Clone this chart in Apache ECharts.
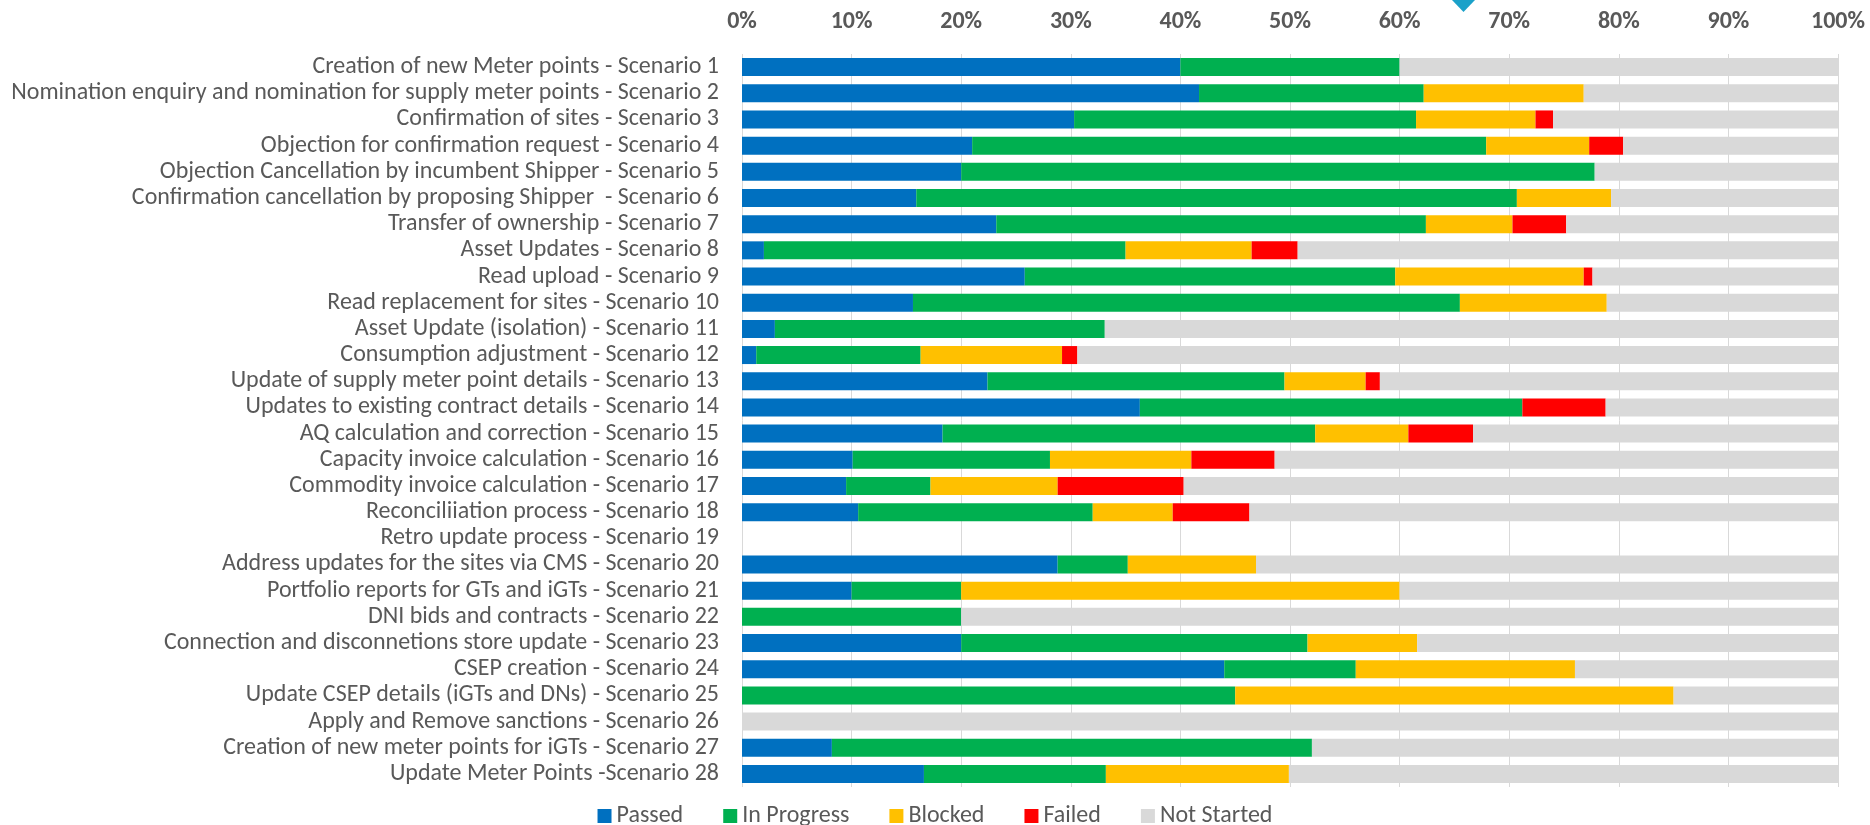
<!DOCTYPE html>
<html>
<head>
<meta charset="utf-8">
<script src="https://cdn.jsdelivr.net/npm/echarts@6/dist/echarts.min.js"></script>
<style>
    html, body {margin: 0; padding: 0; background: #fff;}
    #main {width: 1870px; height: 825px;}
</style>
</head>
<body>
<div id="main"></div>
<script>
// 场景名称
var categories = [
    'Creation of new Meter points - Scenario 1',
    'Nomination enquiry and nomination for supply meter points - Scenario 2',
    'Confirmation of sites - Scenario 3',
    'Objection for confirmation request - Scenario 4',
    'Objection Cancellation by incumbent Shipper - Scenario 5',
    'Confirmation cancellation by proposing Shipper  - Scenario 6',
    'Transfer of ownership - Scenario 7',
    'Asset Updates - Scenario 8',
    'Read upload - Scenario 9',
    'Read replacement for sites - Scenario 10',
    'Asset Update (isolation) - Scenario 11',
    'Consumption adjustment - Scenario 12',
    'Update of supply meter point details - Scenario 13',
    'Updates to existing contract details - Scenario 14',
    'AQ calculation and correction - Scenario 15',
    'Capacity invoice calculation - Scenario 16',
    'Commodity invoice calculation - Scenario 17',
    'Reconciliiation process - Scenario 18',
    'Retro update process - Scenario 19',
    'Address updates for the sites via CMS - Scenario 20',
    'Portfolio reports for GTs and iGTs - Scenario 21',
    'DNI bids and contracts - Scenario 22',
    'Connection and disconnetions store update - Scenario 23',
    'CSEP creation - Scenario 24',
    'Update CSEP details (iGTs and DNs) - Scenario 25',
    'Apply and Remove sanctions - Scenario 26',
    'Creation of new meter points for iGTs - Scenario 27',
    'Update Meter Points -Scenario 28'
];

// 各状态百分比
var passed = [40, 41.7, 30.3, 21.0, 20.0, 15.9, 23.2, 2.0, 25.8, 15.6, 3.0, 1.3, 22.4, 36.3,
    18.3, 10.1, 9.5, 10.6, 0, 28.8, 10, 0, 20, 44, 0, 0, 8.2, 16.6];
var inProgress = [20, 20.5, 31.2, 46.9, 57.8, 54.8, 39.2, 33.0, 33.8, 49.9, 30.1, 15.0, 27.1, 34.9,
    34.0, 18.0, 7.7, 21.4, 0, 6.4, 10, 20, 31.6, 12, 45, 0, 43.8, 16.6];
var blocked = [0, 14.6, 10.9, 9.4, 0, 8.6, 7.9, 11.5, 17.2, 13.4, 0, 12.9, 7.4, 0,
    8.5, 12.9, 11.6, 7.3, 0, 11.7, 40, 0, 10, 20, 40, 0, 0, 16.7];
var failed = [0, 0, 1.6, 3.1, 0, 0, 4.9, 4.2, 0.8, 0, 0, 1.4, 1.3, 7.6,
    5.9, 7.6, 11.5, 7.0, 0, 0, 0, 0, 0, 0, 0, 0, 0, 0];
var notStarted = [40, 23.2, 26.0, 19.6, 22.2, 20.7, 24.8, 49.3, 22.4, 21.1, 66.9, 69.4, 41.8, 21.2,
    33.3, 51.4, 59.7, 53.7, 0, 53.1, 40, 80, 38.4, 24, 15, 100, 48, 50.1];

var seriesNames = ['Passed', 'In Progress', 'Blocked', 'Failed', 'Not Started'];
var seriesColors = ['#0070C0', '#00B050', '#FFC000', '#FF0000', '#D9D9D9'];
var seriesData = [passed, inProgress, blocked, failed, notStarted];

var labelFont = 'Calibri, Carlito, "Liberation Sans", sans-serif';

var chart = echarts.init(document.getElementById('main'));

var series = [];
for (var i = 0; i < seriesNames.length; i++) {
    series.push({
        name: seriesNames[i],
        type: 'bar',
        stack: 'total',
        barWidth: 18,
        itemStyle: {color: seriesColors[i]},
        emphasis: {disabled: true},
        data: seriesData[i]
    });
}

var option = {
    animation: false,
    color: seriesColors,
    grid: {
        left: 742,
        right: 32,
        top: 54,
        bottom: 38
    },
    legend: {
        data: seriesNames,
        top: 799,
        left: 'center',
        icon: 'rect',
        itemWidth: 14,
        itemHeight: 14,
        itemGap: 40,
        textStyle: {
            color: '#595959',
            fontSize: 24,
            fontFamily: labelFont
        }
    },
    xAxis: {
        type: 'value',
        position: 'top',
        min: 0,
        max: 100,
        interval: 10,
        axisLine: {show: false},
        axisTick: {show: false},
        splitLine: {lineStyle: {color: '#D9D9D9', width: 1}},
        axisLabel: {
            margin: 20,
            color: '#595959',
            fontSize: 24,
            fontWeight: 'bold',
            fontFamily: labelFont,
            formatter: '{value}%'
        }
    },
    yAxis: {
        type: 'category',
        inverse: true,
        data: categories,
        axisLine: {show: false},
        axisTick: {show: false},
        axisLabel: {
            interval: 0,
            margin: 23,
            color: '#595959',
            fontSize: 24,
            fontFamily: labelFont
        }
    },
    graphic: [{
        type: 'polygon',
        shape: {points: [[1452, 0], [1475, 0], [1463.5, 12]]},
        style: {fill: '#1BA1C9'}
    }],
    series: series
};

chart.setOption(option);
</script>
</body>
</html>
